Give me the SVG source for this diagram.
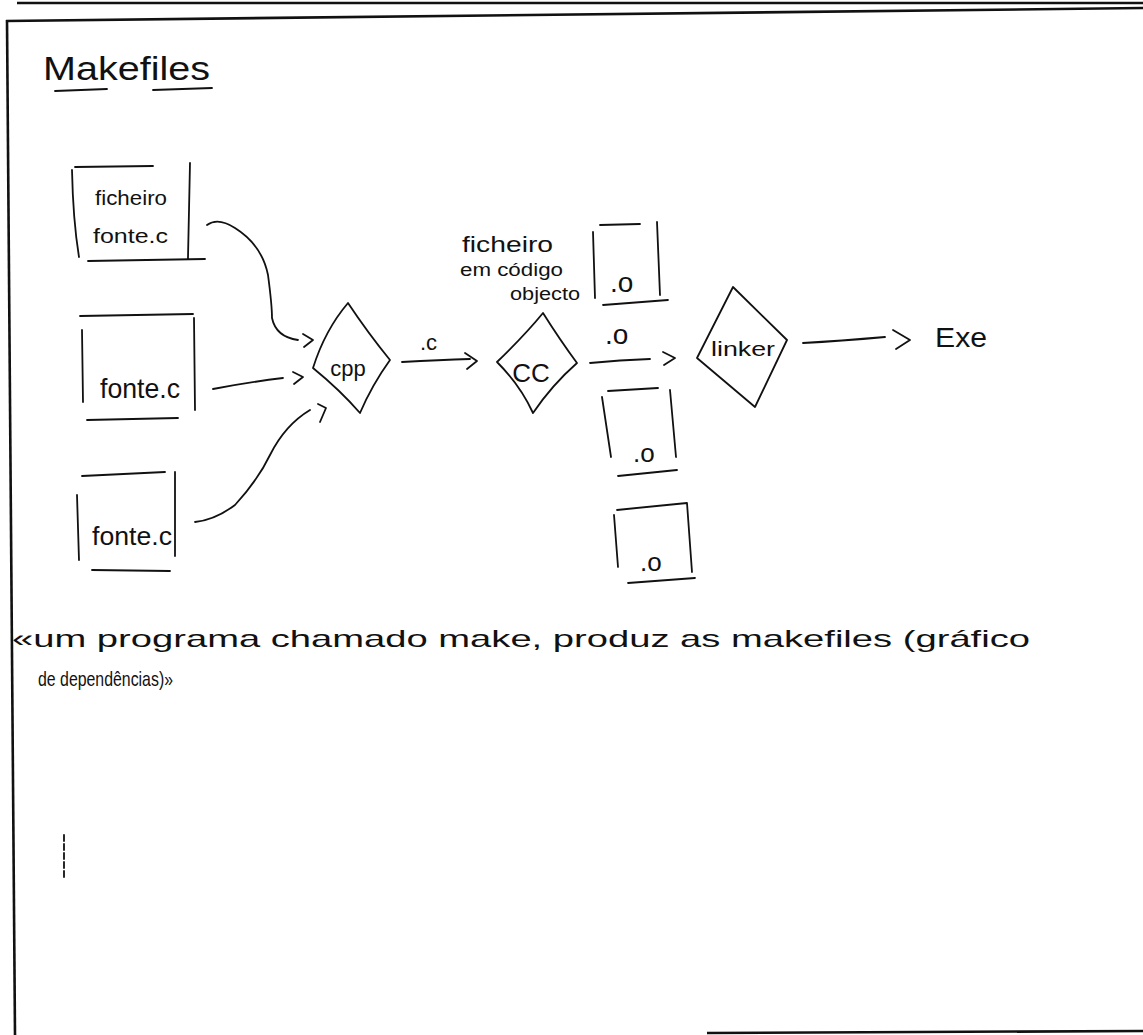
<svg xmlns="http://www.w3.org/2000/svg" width="1143" height="1035" viewBox="0 0 1143 1035">
<style>
.ink{fill:none;stroke:#111;stroke-width:1.8;stroke-linecap:round;stroke-linejoin:round}
.frame{fill:none;stroke:#111;stroke-width:2.6}
.t{font-family:"Liberation Sans","DejaVu Sans",sans-serif;fill:#111}
</style>
<rect width="1143" height="1035" fill="#fff"/>
<g id="frame">
<path class="frame" d="M17 3 L1143 3"/>
<path class="frame" d="M6 21 L1143 8"/>
<path class="frame" d="M7 20 L15 1035"/>
<path class="frame" d="M707 1033 L1143 1031"/>
<path class="ink" d="M64 835 L64 878" stroke-dasharray="6 3" stroke-width="1"/>
</g>
<g id="title">
<text class="t" x="43" y="80" font-size="34" textLength="167" lengthAdjust="spacingAndGlyphs">Makefiles</text>
<path class="ink" d="M55 91 L107 89 M153 90 L212 88" stroke-width="2.4"/>
</g>
<g id="box-ficheiro-fonte">
<path class="ink" d="M75 167 L153 166 M72 170 Q73 220 79 257 M190 163 L188 258 M88 261 L205 259"/>
<text class="t" x="95" y="205" font-size="20" textLength="72" lengthAdjust="spacingAndGlyphs">ficheiro</text>
<text class="t" x="93" y="243" font-size="20" textLength="75" lengthAdjust="spacingAndGlyphs">fonte.c</text>
</g>
<g id="box-fonte2">
<path class="ink" d="M80 316 L193 314 M82 330 L83 402 M194 318 L195 410 M87 420 L178 418"/>
<text class="t" x="100" y="398" font-size="28" textLength="80" lengthAdjust="spacingAndGlyphs">fonte.c</text>
</g>
<g id="box-fonte3">
<path class="ink" d="M82 476 L165 472 M77 495 L79 560 M175 472 L175 556 M92 570 L170 571"/>
<text class="t" x="92" y="545" font-size="26" textLength="80" lengthAdjust="spacingAndGlyphs">fonte.c</text>
</g>
<g id="cpp">
<path class="ink" d="M348 303 Q325 330 313 368 Q340 390 360 413 Q372 385 390 360 Q368 333 348 303 Z"/>
<text class="t" x="348" y="376" font-size="22" text-anchor="middle">cpp</text>
</g>
<g id="cc">
<path class="ink" d="M543 313 Q525 335 497 362 Q520 385 533 413 Q552 385 577 363 Q560 340 543 313 Z"/>
<text class="t" x="531" y="382" font-size="26" text-anchor="middle">CC</text>
</g>
<g id="linker">
<path class="ink" d="M733 287 L697 358 L755 407 L787 340 Z"/>
<text class="t" x="743" y="356" font-size="20" text-anchor="middle" textLength="64" lengthAdjust="spacingAndGlyphs">linker</text>
</g>
<g id="o-box1">
<path class="ink" d="M600 225 L640 224 M593 232 L595 298 M657 222 L660 295 M603 305 L668 300"/>
<text class="t" x="610" y="292" font-size="28">.o</text>
</g>
<g id="o-box2">
<path class="ink" d="M608 391 L658 388 M602 397 L611 457 M670 390 L676 457 M618 476 L677 470"/>
<text class="t" x="633" y="462" font-size="26">.o</text>
</g>
<g id="o-box3">
<path class="ink" d="M617 510 L687 503 M614 515 L618 567 M687 503 L692 572 M628 583 L695 578"/>
<text class="t" x="640" y="571" font-size="26">.o</text>
</g>
<g id="exe">
<text class="t" x="935" y="347" font-size="27" textLength="52" lengthAdjust="spacingAndGlyphs">Exe</text>
</g>
<g id="annotation">
<text class="t" x="462" y="252" font-size="22" textLength="91" lengthAdjust="spacingAndGlyphs">ficheiro</text>
<text class="t" x="460" y="276" font-size="18" textLength="103" lengthAdjust="spacingAndGlyphs">em código</text>
<text class="t" x="510" y="300" font-size="18" textLength="70" lengthAdjust="spacingAndGlyphs">objecto</text>
</g>
<g id="connectors">
<path class="ink" d="M207 225 Q218 217 235 228 Q262 245 268 275 Q272 305 272 318 Q276 337 298 340"/>
<path class="ink" d="M303 334 L313 340 L304 347"/>
<path class="ink" d="M213 389 Q250 382 283 378"/>
<path class="ink" d="M293 372 L303 377 L294 384"/>
<path class="ink" d="M195 522 Q215 520 235 505 Q258 480 270 455 Q285 425 310 410"/>
<path class="ink" d="M318 404 L326 408 L320 422"/>
<path class="ink" d="M402 362 Q440 360 470 359"/>
<path class="ink" d="M465 353 L477 361 L467 369"/>
<path class="ink" d="M590 363 Q620 360 650 359"/>
<path class="ink" d="M663 352 L675 358 L664 365"/>
<path class="ink" d="M803 343 Q840 341 885 337"/>
<path class="ink" d="M893 330 L910 340 L896 349"/>
<text class="t" x="420" y="350" font-size="22">.c</text>
<text class="t" x="605" y="344" font-size="28">.o</text>
</g>
<g id="note">
<text class="t" x="12" y="647" font-size="24" textLength="1018" lengthAdjust="spacingAndGlyphs">«um programa chamado make, produz as makefiles (gráfico</text>
<text class="t" x="38" y="686" font-size="21" textLength="135" lengthAdjust="spacingAndGlyphs">de dependências)»</text>
</g>
</svg>
